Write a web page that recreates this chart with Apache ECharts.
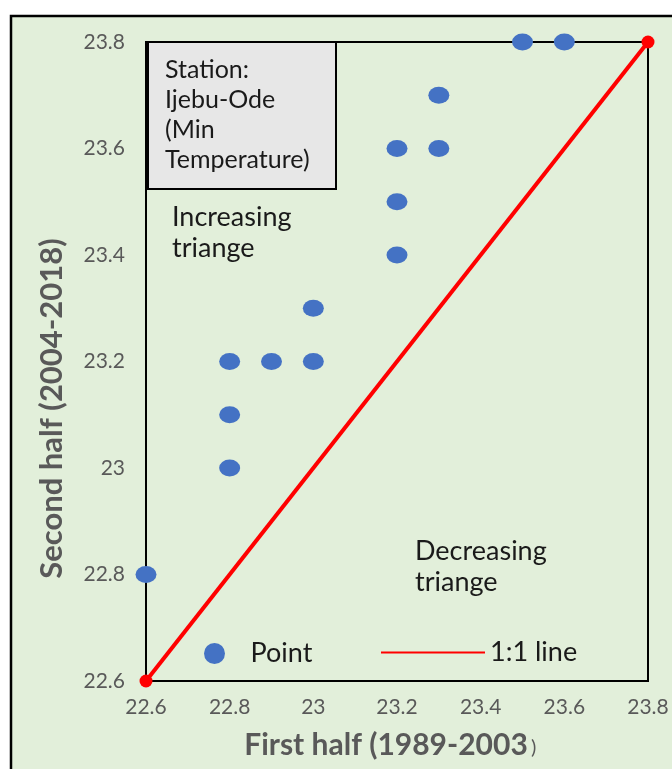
<!DOCTYPE html>
<html>
<head>
<meta charset="utf-8">
<script src="https://cdn.jsdelivr.net/npm/echarts@6/dist/echarts.min.js"></script>
<style>html,body{margin:0;padding:0;background:#fff}#c{width:672px;height:769px}</style>
</head>
<body>
<div id="c"></div>
<script>
// Data
const firstHalf  = [23.5, 23.6, 23.3, 23.2, 23.3, 23.2, 23.2, 23.0, 22.8, 22.9, 23.0, 22.8, 22.8, 22.6];
const secondHalf = [23.8, 23.8, 23.7, 23.6, 23.6, 23.5, 23.4, 23.3, 23.2, 23.2, 23.2, 23.1, 23.0, 22.8];
const oneToOne   = [22.6, 23.8];
const axisMin = 22.6, axisMax = 23.8, axisStep = 0.2;
const xTitle = 'First half (1989-2003';
const yTitle = 'Second half (2004-2018)';
const stationLines = ['Station:', 'Ijebu-Ode', '(Min', 'Temperature)'];

const points = firstHalf.map((x, i) => [x, secondHalf[i]]);
const line = oneToOne.map(v => [v, v]);

const FONT = 'Lato';
const chart = echarts.init(document.getElementById('c'));
chart.setOption({
  backgroundColor: '#ffffff',
  animation: false,
  textStyle: { fontFamily: FONT },
  grid: { left: 146, right: 24, top: 42, bottom: 88, show: true, borderColor: '#000', borderWidth: 2, backgroundColor: 'transparent' },
  xAxis: {
    type: 'value', min: axisMin, max: axisMax, interval: axisStep,
    axisLine: { show: false }, axisTick: { show: false }, splitLine: { show: false },
    axisLabel: { color: '#595959', fontSize: 21, margin: 16, fontFamily: FONT },
    name: xTitle, nameLocation: 'middle', nameGap: 49,
    nameTextStyle: { color: '#595959', fontSize: 30, fontWeight: 'bold', fontFamily: FONT, padding: [0, 22, 0, 0] }
  },
  yAxis: {
    type: 'value', min: axisMin, max: axisMax, interval: axisStep,
    axisLine: { show: false }, axisTick: { show: false }, splitLine: { show: false },
    axisLabel: { color: '#595959', fontSize: 21, margin: 21, fontFamily: FONT },
    name: yTitle, nameLocation: 'middle', nameGap: 79,
    nameTextStyle: { color: '#595959', fontSize: 31, fontWeight: 'bold', fontFamily: FONT, padding: [0, 94, 0, 0] }
  },
  legend: [
    {
      data: [{ name: 'Point', icon: 'circle' }],
      left: 204, top: 640, padding: 0, itemWidth: 22, itemHeight: 21,
      textStyle: { fontSize: 27, color: '#1a1a1a', fontFamily: FONT, padding: [0, 0, 0, 20] },
      selectedMode: false
    },
    {
      data: [{ name: '1:1 line', icon: 'rect' }],
      left: 381, top: 639, padding: 0, itemWidth: 104, itemHeight: 2,
      textStyle: { fontSize: 27, color: '#1a1a1a', fontFamily: FONT, padding: [0, 0, 0, 0] },
      selectedMode: false
    }
  ],
  graphic: [
    { type: 'rect', z: -10, silent: true, shape: { x: 11, y: 16, width: 720, height: 820 },
      style: { fill: '#E2EFDA', stroke: '#000', lineWidth: 2.5 } },
    { type: 'rect', z: 50, silent: true, shape: { x: 148, y: 42, width: 188, height: 147 },
      style: { fill: '#E7E7E7', stroke: '#000', lineWidth: 2 } },
    { type: 'text', z: 51, left: 165, top: 55, silent: true,
      style: { text: stationLines.join('\n'), font: '25px Lato', lineHeight: 30, fill: '#1a1a1a' } },
    { type: 'text', z: 51, left: 172, top: 202, silent: true,
      style: { text: 'Increasing\ntriange', font: '27px Lato', lineHeight: 31, fill: '#1a1a1a' } },
    { type: 'text', z: 51, left: 415, top: 536, silent: true,
      style: { text: 'Decreasing\ntriange', font: '27px Lato', lineHeight: 31, fill: '#1a1a1a' } },
    { type: 'text', z: 51, left: 531, top: 738, silent: true,
      style: { text: ')', font: '20px Lato', fill: '#595959' } }
  ],
  series: [
    {
      name: 'Point', type: 'scatter', data: points, clip: false,
      symbol: 'circle', symbolSize: [21, 17],
      itemStyle: { color: '#4472C4', opacity: 1 }, z: 3
    },
    {
      name: '1:1 line', type: 'line', data: line, clip: false,
      symbol: 'circle', symbolSize: 13, showSymbol: true,
      lineStyle: { color: '#FF0000', width: 4 },
      itemStyle: { color: '#FF0000' }, z: 4
    }
  ]
});
</script>
</body>
</html>
